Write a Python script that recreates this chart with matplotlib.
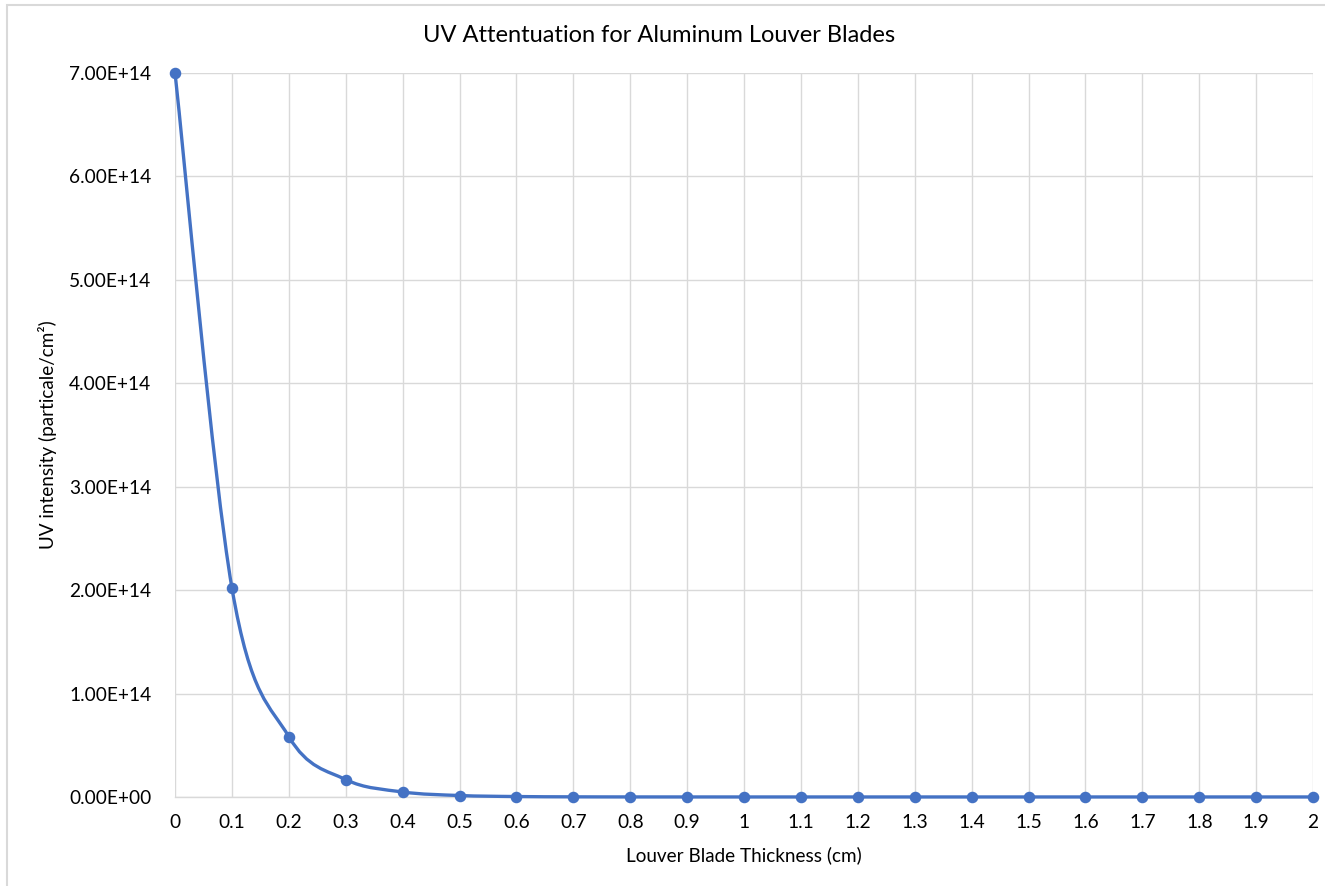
import numpy as np
import matplotlib.pyplot as plt
from matplotlib.path import Path
from matplotlib.patches import PathPatch, Rectangle

plt.rcParams['font.family'] = ['Lato', 'DejaVu Sans']

# espesor (cm) e intensidad UV
espesor = [0, 0.1, 0.2, 0.3, 0.4, 0.5, 0.6, 0.7, 0.8, 0.9, 1.0,
           1.1, 1.2, 1.3, 1.4, 1.5, 1.6, 1.7, 1.8, 1.9, 2.0]
intensidad = [7.00e14, 2.02e14, 5.83e13, 1.68e13, 4.85e12, 1.40e12, 4.04e11,
              1.17e11, 3.36e10, 9.7e9, 2.8e9, 8.1e8, 2.3e8, 6.7e7, 1.9e7,
              5.6e6, 1.6e6, 4.6e5, 1.3e5, 3.8e4, 1.1e4]
etiquetas_x = ['0', '0.1', '0.2', '0.3', '0.4', '0.5', '0.6', '0.7', '0.8', '0.9', '1',
               '1.1', '1.2', '1.3', '1.4', '1.5', '1.6', '1.7', '1.8', '1.9', '2']
ticks_y = [0, 1e14, 2e14, 3e14, 4e14, 5e14, 6e14, 7e14]
etiquetas_y = ['0.00E+00', '1.00E+14', '2.00E+14', '3.00E+14',
               '4.00E+14', '5.00E+14', '6.00E+14', '7.00E+14']

azul = '#4472C4'
gris = '#D9D9D9'

fig = plt.figure(figsize=(13.25, 8.86), dpi=100)
ax = fig.add_axes([0.1321, 0.1005, 0.8589, 0.8172])

# linea suavizada tipo Excel (bezier)
x = np.array(espesor)
y = np.array(intensidad)
verts = [(x[0], y[0])]
codes = [Path.MOVETO]
n = len(x)
for i in range(n - 1):
    p0 = np.array([x[max(i - 1, 0)], y[max(i - 1, 0)]])
    p1 = np.array([x[i], y[i]])
    p2 = np.array([x[i + 1], y[i + 1]])
    p3 = np.array([x[min(i + 2, n - 1)], y[min(i + 2, n - 1)]])
    c1 = p1 + (p2 - p0) / 6
    c2 = p2 - (p3 - p1) / 6
    verts += [tuple(c1), tuple(c2), tuple(p2)]
    codes += [Path.CURVE4, Path.CURVE4, Path.CURVE4]
ax.add_patch(PathPatch(Path(verts, codes), facecolor='none', edgecolor=azul,
                       linewidth=2.4, zorder=3, clip_on=False))
ax.plot(espesor, intensidad, linestyle='none', marker='o', markersize=7.3,
        color=azul, zorder=4, clip_on=False)

ax.set_xlim(0, 2)
ax.set_ylim(0, 7e14)
ax.set_xticks(espesor)
ax.set_xticklabels(etiquetas_x)
ax.set_yticks(ticks_y)
ax.set_yticklabels(etiquetas_y)
ax.tick_params(axis='both', length=0, labelsize=13.8, colors='#000000')
ax.tick_params(axis='y', pad=17)
ax.tick_params(axis='x', pad=12)
ax.grid(True, color=gris, linewidth=1)
ax.set_axisbelow(True)
for s in ['top', 'right', 'left']:
    ax.spines[s].set_visible(False)
ax.spines['bottom'].set_color(gris)
ax.spines['bottom'].set_linewidth(1)

fig.text(659 / 1325, 1 - 35 / 886, 'UV Attentuation for Aluminum Louver Blades',
         fontsize=17, ha='center', va='center')
ax.set_xlabel('Louver Blade Thickness (cm)', fontsize=13.6, labelpad=11)
ax.set_ylabel('UV intensity (particale/cm²)', fontsize=13.6, labelpad=9)

# borde del area del grafico
fig.patches.append(Rectangle((7 / 1325, -0.01), 1.02, 1 - 5 / 886 + 0.01,
                             transform=fig.transFigure, fill=False,
                             edgecolor=gris, linewidth=1.5))

plt.savefig('out.png', dpi=100)
